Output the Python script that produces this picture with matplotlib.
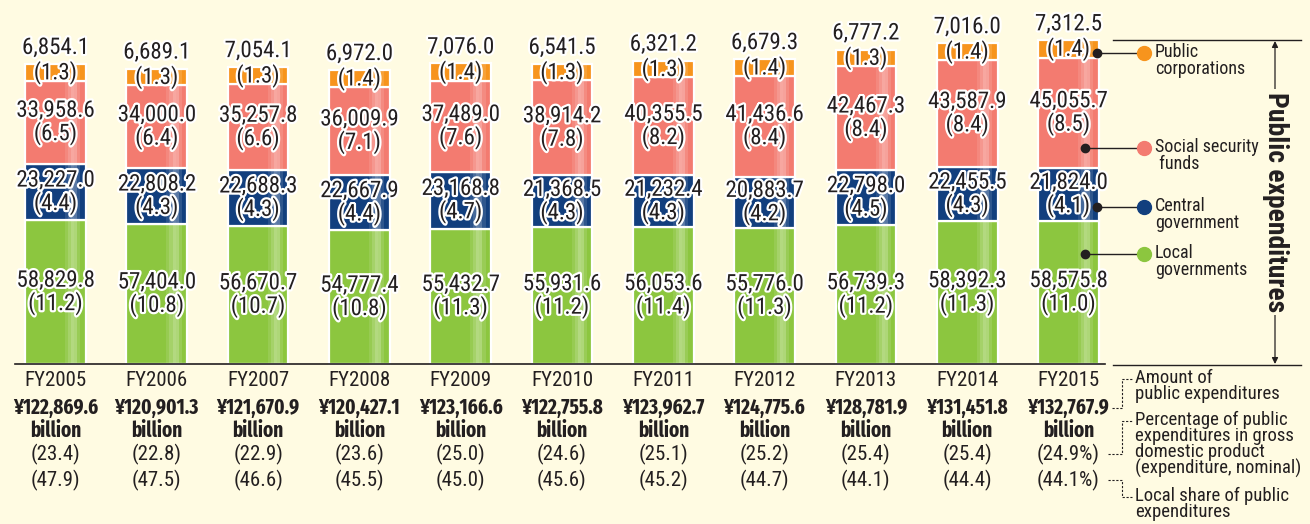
import matplotlib
matplotlib.use('Agg')
import matplotlib.pyplot as plt
import matplotlib.patheffects as pe
from matplotlib import font_manager
import numpy as np

# ---------------- data ----------------
years = ["FY2005", "FY2006", "FY2007", "FY2008", "FY2009", "FY2010",
         "FY2011", "FY2012", "FY2013", "FY2014", "FY2015"]
public_corp = [6854.1, 6689.1, 7054.1, 6972.0, 7076.0, 6541.5, 6321.2, 6679.3, 6777.2, 7016.0, 7312.5]
public_corp_pct = [1.3, 1.3, 1.3, 1.4, 1.4, 1.3, 1.3, 1.4, 1.3, 1.4, 1.4]
social_sec = [33958.6, 34000.0, 35257.8, 36009.9, 37489.0, 38914.2, 40355.5, 41436.6, 42467.3, 43587.9, 45055.7]
social_sec_pct = [6.5, 6.4, 6.6, 7.1, 7.6, 7.8, 8.2, 8.4, 8.4, 8.4, 8.5]
central_gov = [23227.0, 22808.2, 22688.3, 22667.9, 23168.8, 21368.5, 21232.4, 20883.7, 22798.0, 22455.5, 21824.0]
central_gov_pct = [4.4, 4.3, 4.3, 4.4, 4.7, 4.3, 4.3, 4.2, 4.5, 4.3, 4.1]
local_gov = [58829.8, 57404.0, 56670.7, 54777.4, 55432.7, 55931.6, 56053.6, 55776.0, 56739.3, 58392.3, 58575.8]
local_gov_pct = [11.2, 10.8, 10.7, 10.8, 11.3, 11.2, 11.4, 11.3, 11.2, 11.3, 11.0]
totals = ["¥122,869.6", "¥120,901.3", "¥121,670.9", "¥120,427.1", "¥123,166.6", "¥122,755.8",
          "¥123,962.7", "¥124,775.6", "¥128,781.9", "¥131,451.8", "¥132,767.9"]
gdp_share = [23.4, 22.8, 22.9, 23.6, 25.0, 24.6, 25.1, 25.2, 25.4, 25.4, 24.9]
local_share = [47.9, 47.5, 46.6, 45.5, 45.0, 45.6, 45.2, 44.7, 44.1, 44.4, 44.1]
legend_labels = ["Public\ncorporations", "Social security\n funds", "Central\ngovernment", "Local\ngovernments"]

# ---------------- style ----------------
BG = "#FFFBE2"
C_ORANGE = "#F7941D"
C_SALMON = "#F37B70"
C_NAVY = "#123F7E"
C_GREEN = "#8CC63F"
TXT = "#231F20"

avail = {f.name for f in font_manager.fontManager.ttflist}
FAM = [f for f in ["Roboto Condensed", "PT Sans Narrow", "Archivo Narrow",
                   "Liberation Sans Narrow", "DejaVu Sans"] if f in avail]
BOLDFAM = [f for f in ["Fira Sans Extra Condensed", "Roboto Condensed", "DejaVu Sans"] if f in avail]
plt.rcParams['font.family'] = FAM

W, H = 1310, 524
fig = plt.figure(figsize=(13.1, 5.24), dpi=100)
fig.patch.set_facecolor(BG)
ax = fig.add_axes([0, 0, 1, 1])
ax.set_facecolor(BG)
ax.axis('off')

X0, DX = 55.5, 101.3      # pixel centre of first bar and spacing
BASE = 364                # baseline pixel row
SCALE = 0.002441          # pixels per billion yen
ax.set_xlim(-X0 / DX, (W - X0) / DX)
ax.set_ylim(-(H - BASE) / SCALE, BASE / SCALE)


def fp(xp, yp):
    return (xp / W, 1 - yp / H)


x = np.arange(len(years))
bw = 0.60
stroke = [pe.withStroke(linewidth=3.2, foreground="white")]

series = [(local_gov, local_gov_pct, C_GREEN),
          (central_gov, central_gov_pct, C_NAVY),
          (social_sec, social_sec_pct, C_SALMON),
          (public_corp, public_corp_pct, C_ORANGE)]

bottom = np.zeros(len(years))
FS = 16.5
for k, (vals, pcts, col) in enumerate(series):
    vals = np.array(vals)
    ax.bar(x, vals, bw, bottom=bottom, color=col, edgecolor="white", linewidth=1.6, zorder=2)
    # glossy highlight stripe on the right side
    for off, wd, a in [(0.11, 0.03, 0.10), (0.14, 0.03, 0.22), (0.17, 0.03, 0.34),
                       (0.20, 0.03, 0.30), (0.23, 0.03, 0.12)]:
        ax.bar(x + off, vals - 160, wd, bottom=bottom + 80, color="white", alpha=a,
               linewidth=0, zorder=3)
    centers = bottom + vals / 2
    for i in range(len(years)):
        if k == 3:
            ax.text(x[i], centers[i], f"({pcts[i]:.1f})", ha="center", va="center",
                    fontsize=FS, color=TXT, path_effects=stroke, zorder=5)
            ax.annotate(f"{vals[i]:,.1f}", xy=(x[i], centers[i]), xytext=(0, 18),
                        textcoords="offset points", ha="center", va="center",
                        fontsize=FS, color=TXT, path_effects=stroke, zorder=5)
        else:
            ax.text(x[i], centers[i], f"{vals[i]:,.1f}\n({pcts[i]:.1f})", ha="center",
                    va="center", fontsize=FS, color=TXT, linespacing=0.95,
                    path_effects=stroke, zorder=5)
    bottom = bottom + vals

# baseline
ax.plot([fp(15, 0)[0], fp(1105, 0)[0]], [fp(0, 364)[1]] * 2, transform=fig.transFigure,
        color=TXT, lw=1.2, zorder=4)

# bottom labels
xt = ax.get_xaxis_transform()
n = len(years)
BFS = 15
for i in range(n):
    suf = "%" if i == n - 1 else ""
    ax.text(x[i], fp(0, 381)[1], years[i], transform=xt, ha="center", va="center",
            fontsize=BFS, color=TXT)
    ax.text(x[i], fp(0, 408)[1], totals[i], transform=xt, ha="center", va="center",
            fontsize=BFS, color=TXT, fontweight="bold", family=BOLDFAM)
    ax.text(x[i], fp(0, 431)[1], "billion", transform=xt, ha="center", va="center",
            fontsize=BFS, color=TXT, fontweight="bold", family=BOLDFAM)
    ax.text(x[i], fp(0, 454)[1], f"({gdp_share[i]:.1f}{suf})", transform=xt, ha="center",
            va="center", fontsize=BFS, color=TXT)
    ax.text(x[i], fp(0, 480)[1], f"({local_share[i]:.1f}{suf})", transform=xt, ha="center",
            va="center", fontsize=BFS, color=TXT)

# right bracket lines
for yp in (40, 365):
    ax.plot([fp(1113, 0)[0], fp(1301, 0)[0]], [fp(0, yp)[1]] * 2, transform=fig.transFigure,
            color=TXT, lw=1.0)
ax.annotate("", xy=fp(1275, 41), xytext=fp(1275, 364), xycoords="figure fraction",
            textcoords="figure fraction",
            arrowprops=dict(arrowstyle="<|-|>", color=TXT, lw=0.9, mutation_scale=9,
                            shrinkA=0, shrinkB=0))
fig.text(*fp(1275, 202), "Public expenditures", rotation=-90, ha="center", va="center",
         fontsize=20, fontweight="bold", color=TXT,
         bbox=dict(facecolor=BG, edgecolor="none", pad=2))

# legend with leaders
leg_y = [53, 148, 207, 254]
leg_x0 = [1097, 1085, 1097, 1085]
leg_cols = [C_ORANGE, C_SALMON, C_NAVY, C_GREEN]
for lab, yp, x0p, c in zip(legend_labels, leg_y, leg_x0, leg_cols):
    ax.plot([fp(x0p, 0)[0], fp(1136, 0)[0]], [fp(0, yp)[1]] * 2, transform=fig.transFigure,
            color=TXT, lw=1.0, zorder=6)
    ax.plot([fp(x0p, 0)[0]], [fp(0, yp)[1]], "o", transform=fig.transFigure, color=TXT,
            markersize=6, zorder=7)
    ax.plot([fp(1144, 0)[0]], [fp(0, yp)[1]], "o", transform=fig.transFigure, color=c,
            markersize=10, zorder=7)
    fig.text(*fp(1155, yp - 10), lab, ha="left", va="top", fontsize=13, color=TXT,
             linespacing=0.95)

# explanatory notes
notes = [("Amount of\npublic expenditures", 369),
         ("Percentage of public\nexpenditures in gross\ndomestic product\n(expenditure, nominal)", 411),
         ("Local share of public\nexpenditures", 487)]
for t, yp in notes:
    fig.text(*fp(1135, yp), t, ha="left", va="top", fontsize=13.5, color=TXT, linespacing=0.85)

dash = dict(transform=fig.transFigure, color=TXT, lw=0.8, linestyle=(0, (2, 1.5)))
def pl(pts):
    xs = [fp(a, b)[0] for a, b in pts]
    ys = [fp(a, b)[1] for a, b in pts]
    ax.plot(xs, ys, **dash)
pl([(1112, 408), (1122, 408), (1122, 379), (1132, 379)])
pl([(1108, 454), (1122, 454), (1122, 421), (1132, 421)])
pl([(1108, 480), (1122, 480), (1122, 497), (1132, 497)])

fig.savefig("out.png", dpi=100, facecolor=BG)
